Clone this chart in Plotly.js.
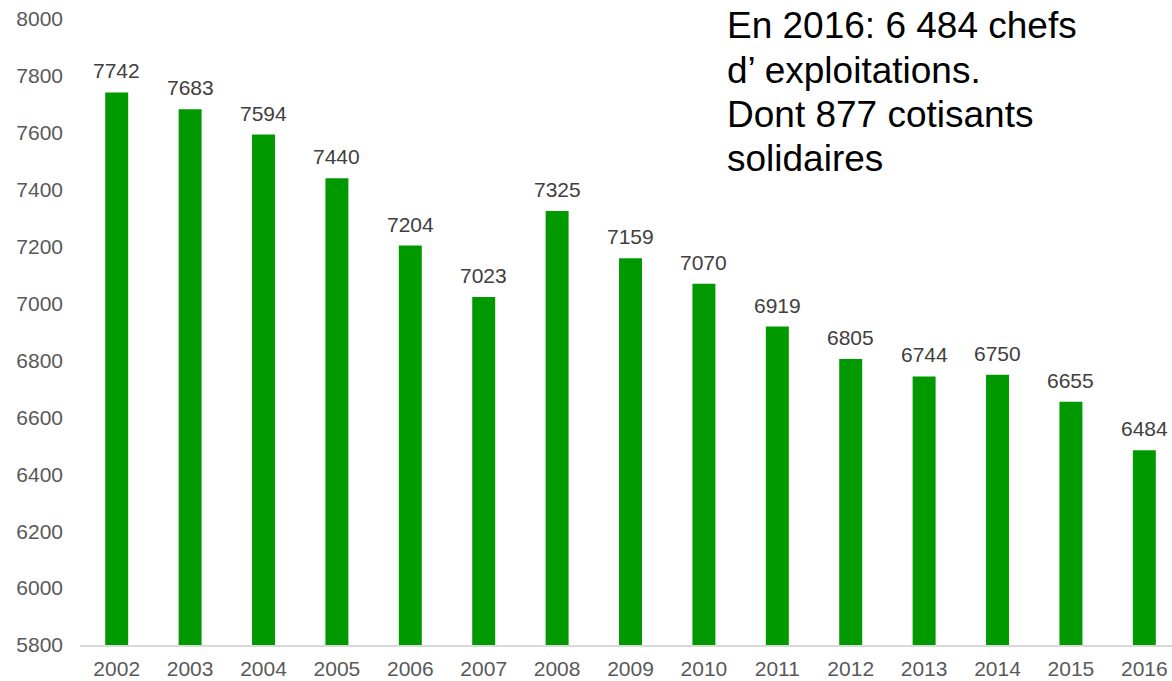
<!DOCTYPE html>
<html>
<head>
<meta charset="utf-8">
<script src="https://cdn.plot.ly/plotly-3.0.1.min.js"></script>
<style>html,body{margin:0;padding:0;background:#fff;}#chart{width:1172px;height:681px;}</style>
</head>
<body>
<div id="chart"></div>
<script>
const years = ["2002","2003","2004","2005","2006","2007","2008","2009","2010","2011","2012","2013","2014","2015","2016"];
const values = [7742,7683,7594,7440,7204,7023,7325,7159,7070,6919,6805,6744,6750,6655,6484];
const yTicks = [5800,6000,6200,6400,6600,6800,7000,7200,7400,7600,7800,8000];
const noteLines = ["En 2016: 6 484 chefs", "d’ exploitations.", "Dont 877 cotisants", "solidaires"];
const noteY = [0.9904, 0.9185, 0.8482, 0.7764];

const FONT = 'Liberation Sans, Arial, sans-serif';

const trace = {
  type: 'bar',
  x: years,
  y: values,
  marker: {color: '#009900'},
  hoverinfo: 'none'
};

const valueLabels = years.map((yr, i) => ({
  xref: 'x', yref: 'y', x: i, y: values[i],
  xanchor: 'center', yanchor: 'bottom', yshift: 8,
  showarrow: false, text: String(values[i]),
  font: {family: FONT, size: 21, color: '#404040'}
}));

const noteAnns = noteLines.map((t, i) => ({
  xref: 'paper', yref: 'paper', x: 0.5907, y: noteY[i],
  xanchor: 'left', yanchor: 'middle', align: 'left',
  showarrow: false, text: t,
  font: {family: FONT, size: 37, color: '#000000'}
}));

const layout = {
  width: 1172, height: 681,
  margin: {l: 80, r: 0, t: 19, b: 36},
  paper_bgcolor: '#fff', plot_bgcolor: '#fff',
  bargap: 0.687,
  showlegend: false,
  font: {family: FONT, color: '#595959', size: 21},
  xaxis: {
    type: 'category',
    range: [-0.5, 14.377],
    showline: true, linecolor: '#d9d9d9', linewidth: 2,
    showgrid: false, ticks: '', zeroline: false,
    ticklabelstandoff: 4,
    tickfont: {size: 21, color: '#595959'}
  },
  yaxis: {
    range: [5800, 8000],
    tickvals: yTicks,
    ticktext: yTicks.map(String),
    showgrid: false, showline: false, zeroline: false, ticks: '',
    ticklabelstandoff: 16,
    tickfont: {size: 21, color: '#595959'}
  },
  annotations: valueLabels.concat(noteAnns)
};

Plotly.newPlot('chart', [trace], layout, {displayModeBar: false, staticPlot: true});
</script>
</body>
</html>
